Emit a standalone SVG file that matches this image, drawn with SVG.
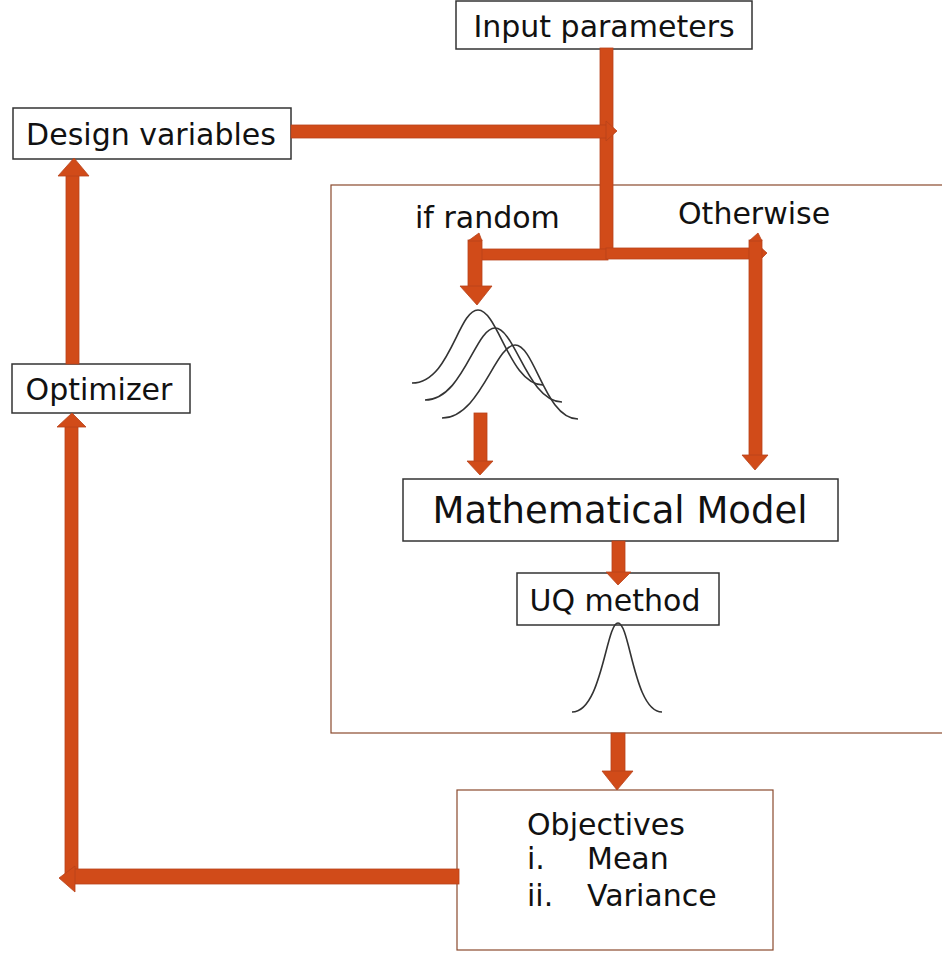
<svg xmlns="http://www.w3.org/2000/svg" width="942" height="953" viewBox="0 0 942 953">
<style>
.box{fill:#fff;stroke:#333;stroke-width:1.5}
.bbox{fill:#fff;stroke:#8a4a2e;stroke-width:1.2}
.t{font-family:"DejaVu Sans",Verdana,sans-serif;fill:#111;font-size:30px}
.ar{fill:#d14b19;stroke:#b8421a;stroke-width:0.8}
.cv{fill:none;stroke:#333;stroke-width:1.6}
</style>
<rect width="942" height="953" fill="#fff"/>
<g id="container"><rect class="bbox" x="331" y="185" width="620" height="548"/></g>
<g id="input-parameters"><rect class="box" x="456" y="1" width="296" height="48"/><text class="t" x="604" y="37" text-anchor="middle">Input parameters</text></g>
<g id="design-variables"><rect class="box" x="13" y="108" width="278" height="51"/><text class="t" x="151" y="145" text-anchor="middle">Design variables</text></g>
<g id="optimizer"><rect class="box" x="12" y="364" width="178" height="49"/><text class="t" x="99" y="400" text-anchor="middle">Optimizer</text></g>
<g id="mathematical-model"><rect class="box" x="403" y="479" width="435" height="62"/><text class="t" x="620" y="523" style="font-size:37px" text-anchor="middle">Mathematical Model</text></g>
<g id="uq-method"><rect class="box" x="517" y="573" width="202" height="52"/><text class="t" x="615" y="611" text-anchor="middle">UQ method</text></g>
<g id="objectives"><rect class="bbox" x="457" y="790" width="316" height="160"/>
<text class="t" x="527" y="835">Objectives</text>
<text class="t" x="527" y="869">i.</text><text class="t" x="587" y="869">Mean</text>
<text class="t" x="527" y="906">ii.</text><text class="t" x="587" y="906">Variance</text></g>
<g id="labels">
<text class="t" x="415" y="228">if random</text>
<text class="t" x="678" y="224">Otherwise</text>
</g>
<g id="distributions">
<path class="cv" d="M412,383 C450,383 458,310 478,310 C498,310 510,385 543,385"/>
<path class="cv" d="M425,400 C463,400 475,328 495,328 C515,328 528,402 562,402"/>
<path class="cv" d="M442,418 C480,418 495,345 515,345 C535,345 545,419 578,419"/>
<path class="cv" d="M572,712 C602,712 606,623 618,623 C630,623 634,712 662,712"/>
</g>
<g id="connectors">
<rect class="ar" x="600" y="48" width="13" height="204"/>
<polygon class="ar" points="597,250 616,250 607,258"/>
<rect class="ar" x="291" y="125" width="317" height="13"/>
<polygon class="ar" points="606,121 606,141 617,131"/>
<rect class="ar" x="472" y="249" width="136" height="11"/>
<rect class="ar" x="468" y="240" width="14" height="47"/>
<polygon class="ar" points="468,241 482,241 479,233"/>
<polygon class="ar" points="460,286 492,286 477,305"/>
<rect class="ar" x="606" y="248" width="153" height="11"/>
<polygon class="ar" points="757,244 757,263 767,253"/>
<rect class="ar" x="749" y="240" width="13" height="216"/>
<polygon class="ar" points="749,241 762,241 758,233"/>
<polygon class="ar" points="742,455 768,455 755,470"/>
<rect class="ar" x="474" y="413" width="13" height="49"/>
<polygon class="ar" points="467,461 493,461 480,475"/>
<rect class="ar" x="612" y="541" width="13" height="32"/>
<polygon class="ar" points="606,572 631,572 618,585"/>
<rect class="ar" x="611" y="733" width="14" height="39"/>
<polygon class="ar" points="602,771 633,771 617,790"/>
<rect class="ar" x="65" y="425" width="13" height="455"/>
<polygon class="ar" points="57,427 86,427 72,413"/>
<rect class="ar" x="73" y="869" width="386" height="15"/>
<polygon class="ar" points="75,866 75,892 59,878"/>
<rect class="ar" x="66" y="175" width="13" height="189"/>
<polygon class="ar" points="58,176 89,176 74,158"/>
</g>
</svg>
